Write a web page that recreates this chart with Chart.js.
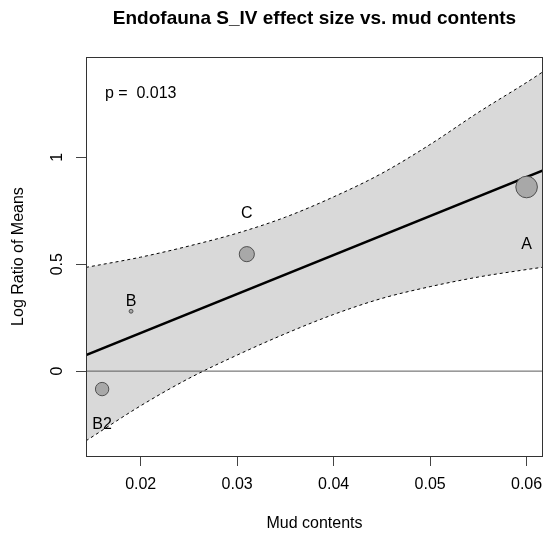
<!DOCTYPE html>
<html>
<head>
<meta charset="utf-8">
<script src="https://cdn.jsdelivr.net/npm/chart.js@4"></script>
<style>
  body { margin: 0; background: #fff; }
  #wrap { width: 545px; height: 535px; }
</style>
</head>
<body>
<div id="wrap"><canvas id="chart" width="545" height="535"></canvas></div>
<script>
// data
const siteNames = ['A', 'B', 'B2', 'C'];
const mud = [0.060, 0.019, 0.016, 0.031];
const lrm = [0.861, 0.280, -0.084, 0.547];
const weight = [1.0, 0.18, 0.62, 0.70];
const labelY = [0.593, 0.324, -0.248, 0.737];

const fitX = [0.01433, 0.0617];
const fitY = [0.075, 0.939];

const bandX = [0.01433, 0.02, 0.025, 0.03, 0.035, 0.04, 0.045, 0.05, 0.055, 0.06, 0.0617];
const bandUpper = [0.485, 0.533, 0.585, 0.645, 0.72, 0.815, 0.925, 1.06, 1.21, 1.35, 1.40];
const bandLower = [-0.326, -0.162, -0.034, 0.075, 0.175, 0.265, 0.34, 0.395, 0.44, 0.475, 0.486];

const xTicks = [0.02, 0.03, 0.04, 0.05, 0.06];
const xTickLabels = ['0.02', '0.03', '0.04', '0.05', '0.06'];
const yTicks = [0, 0.5, 1];
const yTickLabels = ['0', '0.5', '1'];

const pText = 'p =  0.013';
const pPos = {x: 0.02, y: 1.30};

const xMin = 0.01433, xMax = 0.0617;
const yMin = -0.397, yMax = 1.469;

const FONT = "'Liberation Sans', Arial, sans-serif";

const toXY = (xs, ys) => xs.map((x, i) => ({x: x, y: ys[i]}));

// R-style text: title, axis titles, tick labels, point labels
const textPlugin = {
    id: 'rtext',
    afterDraw(chart) {
        const c = chart.ctx;
        const a = chart.chartArea;
        const xs = chart.scales.x, ys = chart.scales.y;
        c.save();
        c.strokeStyle = '#333';
        c.lineWidth = 1;
        c.strokeRect(Math.round(a.left) + 0.5, Math.round(a.top) + 0.5,
            Math.round(a.right - a.left) - 1, Math.round(a.bottom - a.top));

        c.fillStyle = '#000';
        c.textAlign = 'center';
        c.textBaseline = 'middle';
        const cx = (a.left + a.right) / 2;

        c.font = 'bold 19px ' + FONT;
        c.fillText('Endofauna S_IV effect size vs. mud contents', cx, 19);

        c.font = '16px ' + FONT;
        c.fillText('Mud contents', cx, 524);

        c.save();
        c.translate(19, (a.top + a.bottom) / 2);
        c.rotate(-Math.PI / 2);
        c.fillText('Log Ratio of Means', 0, 0);
        c.restore();

        yTicks.forEach((v, i) => {
            c.save();
            c.translate(58, ys.getPixelForValue(v));
            c.rotate(-Math.PI / 2);
            c.fillText(yTickLabels[i], 0, 0);
            c.restore();
        });

        siteNames.forEach((n, i) => {
            c.fillText(n, xs.getPixelForValue(mud[i]), ys.getPixelForValue(labelY[i]));
        });

        c.fillText(pText, xs.getPixelForValue(pPos.x), ys.getPixelForValue(pPos.y));

        c.textBaseline = 'alphabetic';
        xTicks.forEach((v, i) => {
            c.fillText(xTickLabels[i], xs.getPixelForValue(v), 489);
        });
        c.restore();
    }
};

new Chart(document.getElementById('chart'), {
    type: 'scatter',
    data: {
        datasets: [
            {
                type: 'line',
                data: toXY(bandX, bandUpper),
                borderColor: '#000',
                borderWidth: 1,
                borderDash: [3, 3],
                backgroundColor: '#d9d9d9',
                fill: '+1',
                pointRadius: 0,
                cubicInterpolationMode: 'monotone',
                order: 4
            },
            {
                type: 'line',
                data: toXY(bandX, bandLower),
                borderColor: '#000',
                borderWidth: 1,
                borderDash: [3, 3],
                fill: false,
                pointRadius: 0,
                cubicInterpolationMode: 'monotone',
                order: 3
            },
            {
                type: 'line',
                data: [{x: xMin, y: 0}, {x: xMax, y: 0}],
                borderColor: '#5a5a5a',
                borderWidth: 1,
                pointRadius: 0,
                fill: false,
                order: 2
            },
            {
                type: 'line',
                data: toXY(fitX, fitY),
                borderColor: '#000',
                borderWidth: 2.5,
                pointRadius: 0,
                fill: false,
                order: 1
            },
            {
                data: toXY(mud, lrm),
                backgroundColor: '#a8a8a8',
                borderColor: '#505050',
                borderWidth: 1,
                pointRadius: (ctx) => 10.8 * weight[ctx.dataIndex],
                order: 0
            }
        ]
    },
    options: {
        responsive: false,
        animation: false,
        layout: { autoPadding: false, padding: { top: 57, right: 2, left: 0, bottom: 0 } },
        plugins: {
            legend: { display: false },
            tooltip: { enabled: false }
        },
        scales: {
            x: {
                type: 'linear',
                min: xMin,
                max: xMax,
                afterBuildTicks: (s) => { s.ticks = xTicks.map(v => ({value: v})); },
                afterFit: (s) => { s.height = 79; },
                ticks: { display: false },
                grid: { drawOnChartArea: false, drawTicks: true, tickLength: 10, color: '#444' },
                border: { display: false }
            },
            y: {
                min: yMin,
                max: yMax,
                afterBuildTicks: (s) => { s.ticks = yTicks.map(v => ({value: v})); },
                afterFit: (s) => { s.width = 86; },
                ticks: { display: false },
                grid: { drawOnChartArea: false, drawTicks: true, tickLength: 10, color: '#444' },
                border: { display: false }
            }
        }
    },
    plugins: [textPlugin]
});
</script>
</body>
</html>
